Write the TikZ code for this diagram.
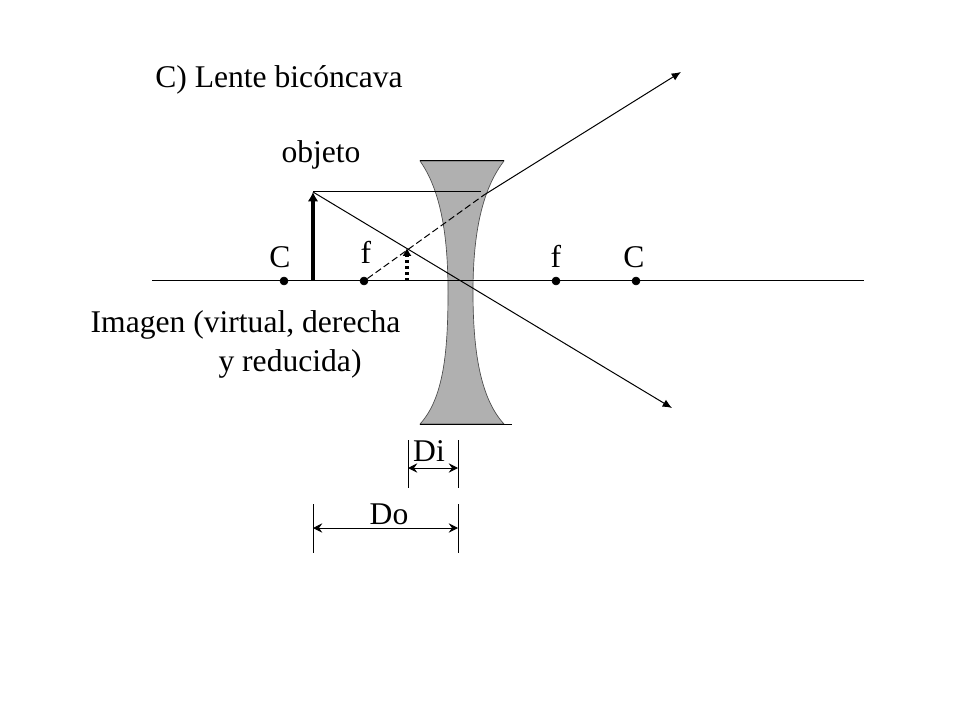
\documentclass[tikz,border=0pt]{standalone}
\usepackage{fontspec}
\setmainfont{Liberation Serif}
\usepackage{tikz}
\usetikzlibrary{arrows.meta}
\tikzset{dotpt/.style={shape=circle, draw=black, fill=black, inner sep=0pt, minimum size=6pt}}
\tikzset{lbl/.style={inner sep=0pt, anchor=base, font=\fontsize{23.7pt}{28pt}\selectfont}}
\tikzset{ray/.style={line width=0.75pt, -{Latex[length=7pt, width=6pt]}}}
\tikzset{dimline/.style={line width=0.75pt, {Stealth[length=7pt, width=7pt, inset=2.5pt]}-{Stealth[length=7pt, width=7pt, inset=2.5pt]}}}
\begin{document}
\begin{tikzpicture}[x=0.75pt, y=-0.75pt]
    \useasboundingbox (0,0) rectangle (960,720);

    \draw[fill=black!31, draw=black!70, line width=0.5pt] (420,161) .. controls (442,192) and (448,240) .. (448,292) .. controls (448,350) and (444,398) .. (420,424) -- (504,424) .. controls (480,398) and (473,350) .. (473,292) .. controls (473,240) and (480,192) .. (504,161) -- cycle;
    \coordinate (LTL) at (420,161);
    \coordinate (LTR) at (504,161);
    \coordinate (LBL) at (420,424);
    \coordinate (LBR) at (512,424);
    \draw[line width=0.75pt] (LTL) -- (LTR);
    \draw[line width=0.75pt] (LBL) -- (LBR);

    \coordinate (AL) at (152,281);
    \coordinate (AR) at (864,281);
    \draw[line width=0.75pt] (AL) -- (AR);

    \node[dotpt] (C1) at (284,281) {};
    \node[dotpt] (F1) at (364,281) {};
    \node[dotpt] (F2) at (556,281) {};
    \node[dotpt] (C2) at (636,281) {};

    \coordinate (OB) at (313,281);
    \coordinate (OT) at (313,192);
    \coordinate (IB) at (407,281);
    \coordinate (IT) at (407,248);
    \coordinate (HE) at (481,192);
    \coordinate (RE) at (484,195);
    \coordinate (RO) at (681,72);
    \coordinate (RD) at (672,408);

    \draw[line width=2.8pt, -{Latex[length=7pt, width=8pt]}] (OB) -- (OT);
    \draw[line width=2.4pt, dash pattern=on 2pt off 2.5pt, -{Latex[length=6pt, width=7pt]}] (IB) -- (IT);
    \draw[line width=0.75pt] (OT) -- (HE);
    \draw[ray] (OT) -- (RD);
    \draw[line width=0.75pt, dash pattern=on 5pt off 2.5pt] (F1) -- (RE);
    \draw[ray] (RE) -- (RO);

    \coordinate (DiL) at (408,440);
    \coordinate (DiLb) at (408,488);
    \coordinate (DiR) at (458,440);
    \coordinate (DiRb) at (458,488);
    \coordinate (DoL) at (313,504);
    \coordinate (DoLb) at (313,553);
    \coordinate (DoR) at (458,504);
    \coordinate (DoRb) at (458,553);
    \coordinate (DiA) at (408,468);
    \coordinate (DiB) at (458,468);
    \coordinate (DoA) at (313,528);
    \coordinate (DoB) at (458,528);
    \draw[line width=0.75pt] (DiL) -- (DiLb);
    \draw[line width=0.75pt] (DiR) -- (DiRb);
    \draw[line width=0.75pt] (DoL) -- (DoLb);
    \draw[line width=0.75pt] (DoR) -- (DoRb);
    \draw[dimline] (DiA) -- (DiB);
    \draw[dimline] (DoA) -- (DoB);

    \node[lbl] (title) at (279,88) {C) Lente bicóncava};
    \node[lbl] (objeto) at (321,163) {objeto};
    \node[lbl] (cl) at (280,268) {C};
    \node[lbl] (fl) at (366,264) {f};
    \node[lbl] (fr) at (556,268) {f};
    \node[lbl] (cr) at (634,268) {C};
    \node[lbl] (img1) at (245.5,332) {Imagen (virtual, derecha};
    \node[lbl] (img2) at (290,371) {y reducida)};
    \node[lbl] (di) at (429,461) {Di};
    \node[lbl] (do) at (389,524) {Do};
\end{tikzpicture}
\end{document}
